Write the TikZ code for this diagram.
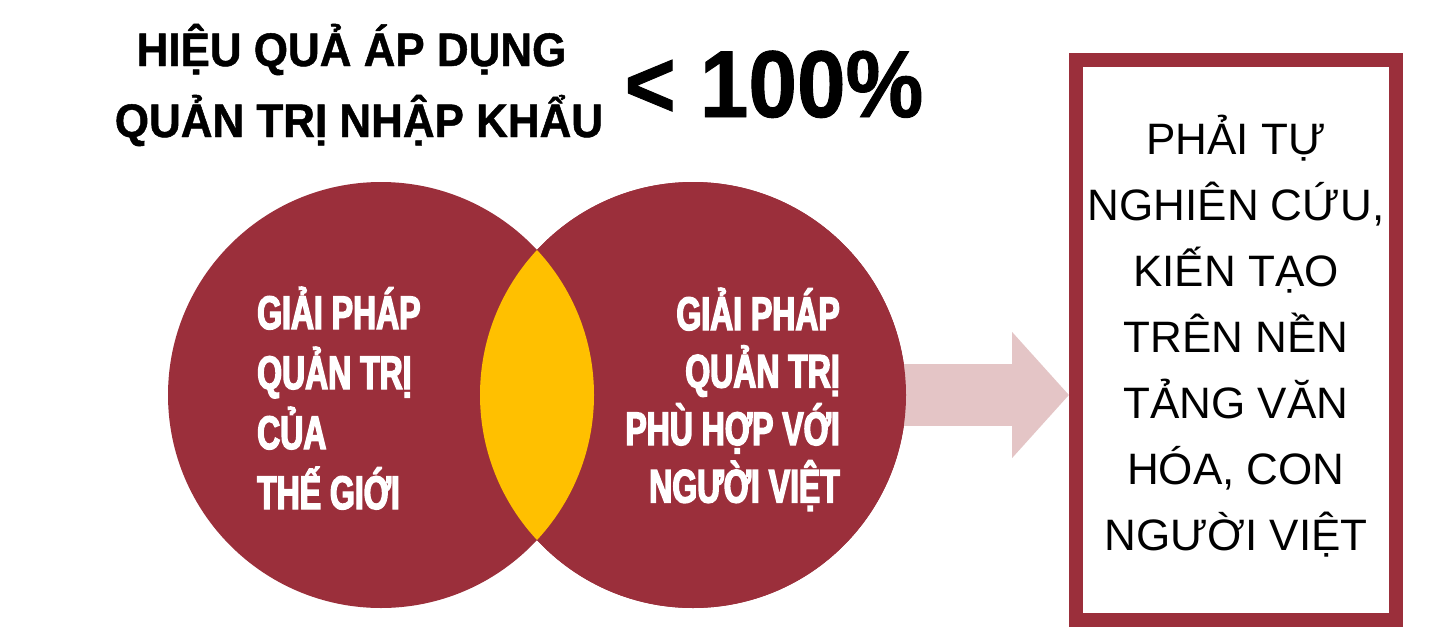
\documentclass[tikz,border=0pt]{standalone}
\usepackage{fontspec}
\setmainfont{Liberation Sans}
\newfontfamily\titlefont{Liberation Sans}[FakeStretch=0.935,FakeBold=1]
\newfontfamily\pctfont{Liberation Sans}[FakeStretch=0.92,FakeBold=1]
\newfontfamily\circfont{Liberation Sans}[FakeStretch=0.68,FakeBold=3]
\usetikzlibrary{arrows.meta}
\definecolor{wine}{HTML}{9B2F3B}
\definecolor{gold}{HTML}{FFC000}
\definecolor{blush}{HTML}{E4C5C6}
\begin{document}
\begin{tikzpicture}[x=1pt,y=-1pt,
  venn/.style={circle, fill=wine, minimum size=426pt, inner sep=0pt, outer sep=0pt},
  ctext/.style={inner sep=0pt, text=white, font=\circfont\bfseries\fontsize{47}{50}\selectfont},
  ttext/.style={inner sep=0pt, text=black, font=\titlefont\bfseries\fontsize{47}{50}\selectfont},
  btext/.style={inner sep=0pt, text=black, font=\fontsize{44}{50}\selectfont},
  framebox/.style={draw=wine, line width=14pt, minimum width=320pt, minimum height=560pt, inner sep=0pt, outer sep=7pt}]
\useasboundingbox (0,0) rectangle (1430,627);
\fill[white] (0,0) rectangle (1430,627);
% title
\node[ttext, anchor=base] (t1) at (351.5,66) {HIỆU QUẢ ÁP DỤNG};
\node[ttext, anchor=base] (t2) at (359,137) {QUẢN TRỊ NHẬP KHẨU};
\node[inner sep=0pt, font=\pctfont\bfseries\fontsize{95}{100}\selectfont, anchor=base] (pct) at (774,117) {< 100\%};
% box
\node[framebox] (box) at (1236,340) {};
% circles
\node[venn] (rc) at (693,395) {};
\draw[blush, line width=62pt, -{Triangle[length=57pt,width=123pt]}] (rc.center) -- (rc.center -| box.west);
\node[venn] (lc) at (381,395) {};
\node[venn] (rc2) at (693,395) {};
\begin{scope}
  \clip (lc.center) circle[radius=213];
  \fill[gold] (rc2.center) circle[radius=213];
\end{scope}
% circle texts
\foreach \t [count=\i] in {GIẢI PHÁP, QUẢN TRỊ, CỦA, THẾ GIỚI}
  \node[ctext, anchor=base west] (lt\i) at (257,{329+60*(\i-1)}) {\t};
\foreach \t [count=\i] in {GIẢI PHÁP, QUẢN TRỊ, PHÙ HỢP VỚI, NGƯỜI VIỆT}
  \node[ctext, anchor=base east] (rt\i) at (840,{330+57.5*(\i-1)}) {\t};
% box text
\foreach \t [count=\i] in {PHẢI TỰ, {NGHIÊN CỨU,}, KIẾN TẠO, TRÊN NỀN, TẢNG VĂN, {HÓA, CON}, NGƯỜI VIỆT}
  \node[btext, anchor=base] (bt\i) at (1236,{154+66*(\i-1)}) {\t};
\end{tikzpicture}
\end{document}
